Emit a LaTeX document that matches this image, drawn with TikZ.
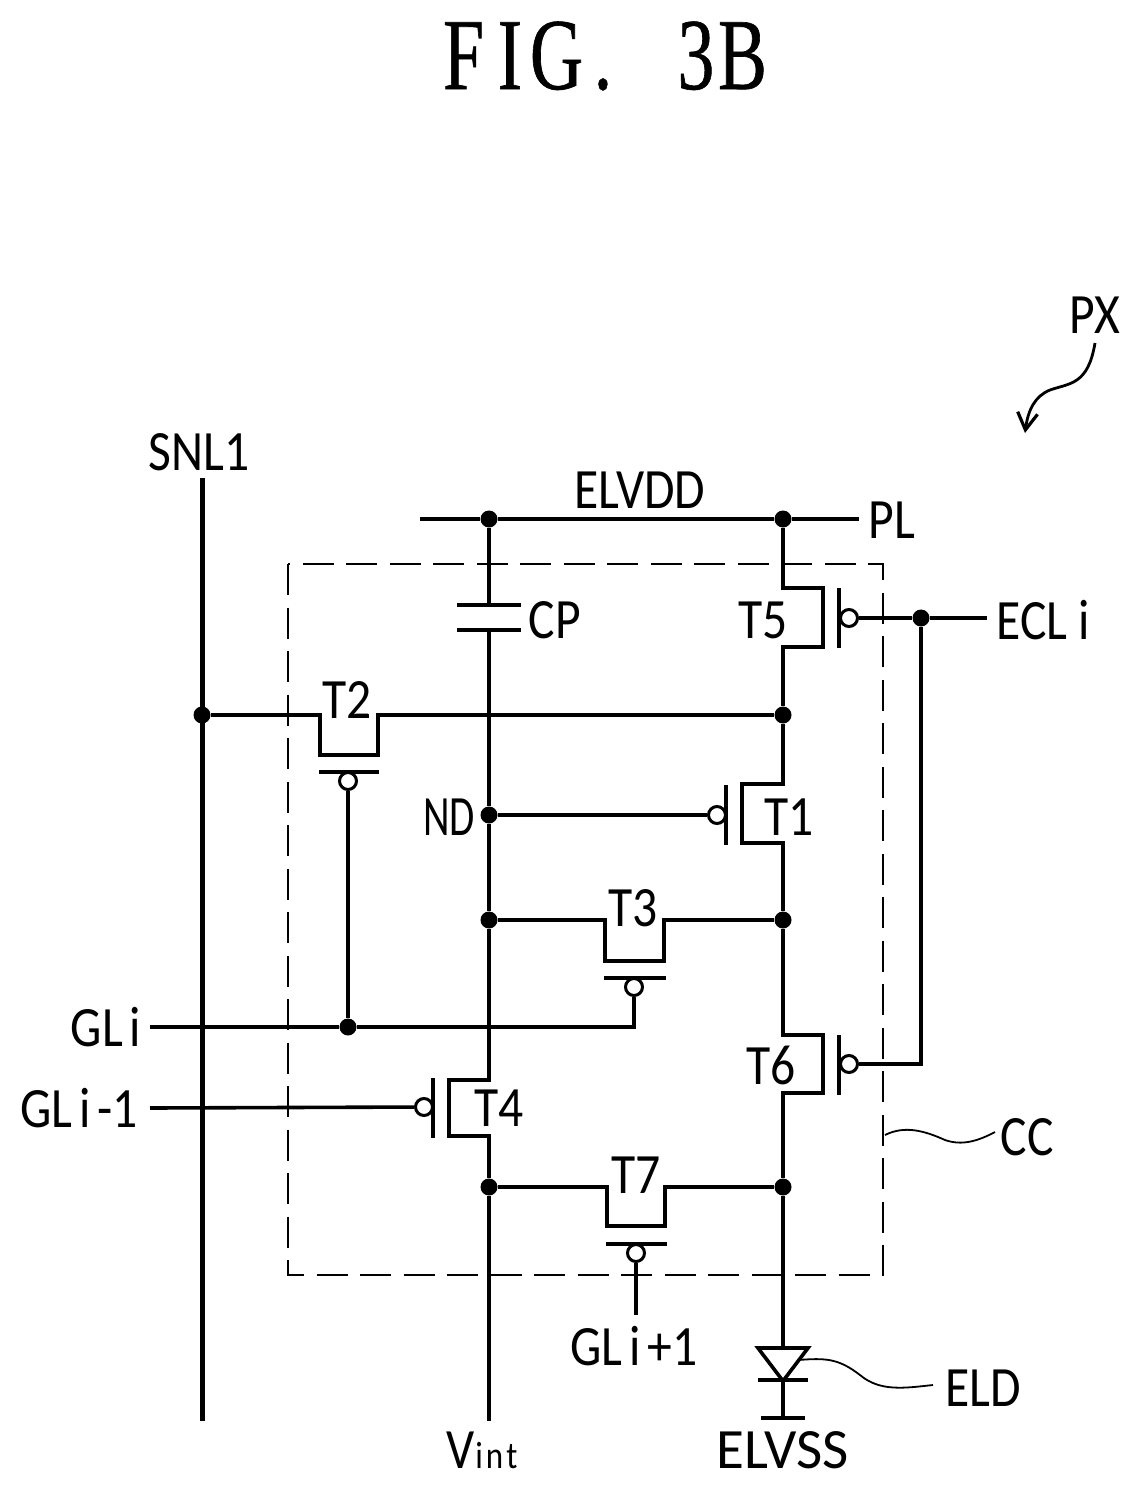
\documentclass[tikz,border=0pt]{standalone}
\usepackage{fontspec}
\setmainfont[FakeStretch=0.87]{Carlito}
\newfontfamily\fullwidth{Carlito}
\newfontfamily\slimwidth[FakeStretch=0.72]{Carlito}
\newfontfamily\titlefont[FakeStretch=0.72,FakeBold=0.6]{Liberation Serif}
\usetikzlibrary{arrows.meta}
\newcommand{\tl}[1]{\makebox[46.5pt]{#1}}
\newcommand{\gi}{\kern7pt i\kern7pt}
\tikzset{
  x=1pt,y=-1pt,
  wire/.style={line width=3.6pt,line join=miter,line cap=butt},
  bus/.style={line width=5pt},
  region/.style={line width=2.6pt,dash pattern=on 31pt off 12.5pt},
  leader/.style={line width=1.8pt},
  junction/.style={circle,fill=black,inner sep=0pt,minimum size=17pt},
  bubble/.style={circle,draw=black,fill=white,line width=3pt,inner sep=0pt,minimum size=17pt},
  lbl/.style={inner sep=0pt,font=\fontsize{57}{57}\selectfont},
}
\begin{document}
\begin{tikzpicture}
\useasboundingbox (0,0) rectangle (1140,1490);
% title
\node[inner sep=0pt,font=\titlefont\fontsize{102}{102}\selectfont] (title) at (603,56) {\tl{F}\tl{I}\tl{G}\tl{.}\tl{ }\tl{3}\tl{B}};
% dashed region
\coordinate (ccA) at (288,564); \coordinate (ccB) at (883,1275);
\draw[region] (ccA) rectangle (ccB);
% junctions
\node[junction] (jA) at (489,519) {};
\node[junction] (jB) at (783,519) {};
\node[junction] (jC) at (202,715) {};
\node[junction] (jD) at (783,715) {};
\node[junction] (jE) at (489,815) {};
\node[junction] (jF) at (489,920) {};
\node[junction] (jG) at (783,920) {};
\node[junction] (jH) at (348,1027) {};
\node[junction] (jI) at (489,1187) {};
\node[junction] (jJ) at (783,1187) {};
\node[junction] (jK) at (921,618) {};
% free ends
\coordinate (snlT) at (202,478); \coordinate (snlB) at (202,1421);
\coordinate (plL) at (420,519); \coordinate (plR) at (859,519);
\coordinate (vB) at (489,1421);
\coordinate (ecl) at (987,618);
\coordinate (gli) at (150,1027); \coordinate (gliT) at (634,1027);
\coordinate (glm) at (150,1108);
\coordinate (glp) at (636,1315);
\coordinate (capT) at (489,605); \coordinate (capB) at (489,630);
\coordinate (eclB) at (921,1064);
% gate bubbles
\node[bubble] (bT5) at (849,618) {};
\node[bubble] (bT6) at (849,1064) {};
\node[bubble] (bT1) at (717,815) {};
\node[bubble] (bT2) at (348,781) {};
\node[bubble] (bT3) at (634,987) {};
\node[bubble] (bT4) at (424,1107) {};
\node[bubble] (bT7) at (636,1253) {};
% buses
\draw[bus] (snlT) -- (snlB);
\draw[wire] (plL) -- (jA) -- (jB) -- (plR);
% capacitor
\draw[wire] (jA) -- (capT);
\draw[wire] (457,605) -- (521,605);
\draw[wire] (457,630) -- (521,630);
% left rail
\draw[wire] (capB) -- (jE) -- (jF) -- (489,1080) -- (449,1080) -- (449,1136) -- (489,1136) -- (jI) -- (vB);
% right rail
\draw[wire] (jB) -- (783,588) -- (823,588) -- (823,647) -- (783,647) -- (jD);
\draw[wire] (jD) -- (783,784) -- (742,784) -- (742,843) -- (783,843) -- (jG);
\draw[wire] (jG) -- (783,1035) -- (823,1035) -- (823,1093) -- (783,1093) -- (jJ);
\coordinate (dA) at (783,1348);
\draw[wire] (jJ) -- (dA);
% T2, T3, T7 channels
\draw[wire] (jC) -- (320,715) -- (320,755) -- (378,755) -- (378,715) -- (jD);
\draw[wire] (jF) -- (605,920) -- (605,961) -- (664,961) -- (664,920) -- (jG);
\draw[wire] (jI) -- (607,1187) -- (607,1226) -- (665,1226) -- (665,1187) -- (jJ);
% gate bars
\draw[wire] (839,588) -- (839,648);
\draw[wire] (839,1035) -- (839,1095);
\draw[wire] (726,785) -- (726,845);
\draw[wire] (319,772) -- (379,772);
\draw[wire] (604,978) -- (666,978);
\draw[wire] (433,1078) -- (433,1138);
\draw[wire] (606,1244) -- (667,1244);
% gate connections
\draw[wire] (bT5) -- (jK) -- (ecl);
\draw[wire] (jK) -- (eclB) -- (bT6);
\draw[wire] (jE) -- (bT1);
\draw[wire] (bT2) -- (jH);
\draw[wire] (gli) -- (jH) -- (gliT) -- (bT3);
\draw[wire] (glm) -- (bT4);
\draw[wire] (bT7) -- (glp);
% diode
\draw[wire,line join=miter] (dA) -- (758,1348) -- (783,1381) -- (808,1348) -- cycle;
\draw[wire] (758,1380) -- (808,1380);
\coordinate (gnd) at (783,1418);
\draw[wire] (783,1380) -- (gnd);
\draw[wire] (761,1418) -- (805,1418);
% leaders
\coordinate (ccL) at (885,1135); \coordinate (ccR) at (995,1132);
\draw[leader] (ccL) .. controls (905,1125) and (925,1131) .. (945,1140) .. controls (962,1146) and (978,1141) .. (ccR);
\coordinate (eldL) at (798,1360); \coordinate (eldR) at (933,1385);
\draw[leader] (eldL) .. controls (825,1358) and (838,1358) .. (860,1375) .. controls (880,1392) and (905,1388) .. (eldR);
\coordinate (pxA) at (1095,343); \coordinate (pxB) at (1025,433);
\draw[line width=2.8pt,-{Straight Barb[length=17pt,width=20pt,line width=3.2pt]}] (pxA) .. controls (1088,385) and (1070,383) .. (1050,390) .. controls (1035,396) and (1028,410) .. (pxB);
% labels
\node[lbl] (lSNL) at (199,452) {SNL1};
\node[lbl] (lELVDD) at (640,490) {ELVDD};
\node[lbl] (lPL) at (892,520) {PL};
\node[lbl] (lPX) at (1095,315) {PX};
\node[lbl] (lCP) at (555,620) {CP};
\node[lbl] (lT5) at (763,620) {T5};
\node[lbl] (lECL) at (1044,620) {ECL\kern11pt i\kern1pt};
\node[lbl] (lT2) at (347,700) {T2};
\node[lbl] (lND) at (449,817) {\slimwidth ND};
\node[lbl] (lT1) at (789,817) {T1};
\node[lbl] (lT3) at (633,908) {T3};
\node[lbl] (lGLi) at (107,1027) {GL\kern7pt i\kern2pt};
\node[lbl] (lGLm) at (79,1108) {GL\gi-1};
\node[lbl] (lT4) at (499,1108) {T4};
\node[lbl] (lT6) at (771,1065) {T6};
\node[lbl] (lT7) at (636,1175) {T7};
\node[lbl] (lCC) at (1027,1137) {CC};
\node[lbl] (lGLp) at (634,1346) {GL\gi+1};
\node[lbl] (lELD) at (983,1388) {ELD};
\node[lbl] (lELVSS) at (783,1450) {\fullwidth ELVSS};
\node[lbl,anchor=base west] (lV) at (446,1468) {V\kern1pt{\fontsize{38}{38}\selectfont i\kern3pt n\kern3pt t}};
\end{tikzpicture}
\end{document}
